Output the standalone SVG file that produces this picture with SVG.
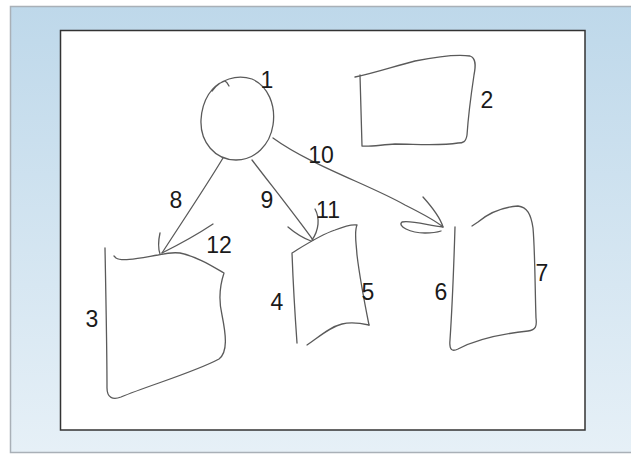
<svg xmlns="http://www.w3.org/2000/svg" width="631" height="457" viewBox="0 0 631 457">
  <defs>
    <linearGradient id="panelFill" x1="0" y1="0" x2="0" y2="1">
      <stop offset="0" stop-color="#bed8ea"/>
      <stop offset="1" stop-color="#e6f0f7"/>
    </linearGradient>
    <style>
      .ink { fill: none; stroke: #5a5a5a; stroke-width: 1.3; stroke-linecap: round; stroke-linejoin: round; }
      .lbl { font-family: "Liberation Sans", Arial, sans-serif; font-size: 23px; fill: #1a1a1a; text-anchor: middle; }
    </style>
  </defs>

  <!-- background panel and drawing sheet -->
  <rect x="10.5" y="6.5" width="640" height="446" fill="url(#panelFill)" stroke="#a9b0b7" stroke-width="1.5"/>
  <rect x="60.5" y="30.5" width="524.5" height="399.5" fill="#ffffff" stroke="#333333" stroke-width="1.5"/>

  <!-- circle node -->
  <g id="node1">
    <path class="ink" d="M 212,91 C 220,80 236,74 252,79 C 268,86 276,105 273,125 C 270,145 255,160 236,160 C 215,160 200,142 201,120 C 202,100 212,85 225,81 C 227,82 228,84 229,86"/>
    <text class="lbl" x="267" y="88">1</text>
  </g>

  <!-- box at top right -->
  <g id="node2">
    <path class="ink" d="M 355,77 C 375,73 395,66 415,61 C 435,57 455,54 470,56 C 476,58 476,65 474,75 C 471,95 468,120 467,135 C 466,142 463,143 458,143 C 440,146 415,144 395,144 C 380,145 368,147 362,146 L 360,75"/>
    <text class="lbl" x="487" y="108">2</text>
  </g>

  <!-- lower left box -->
  <g id="node3">
    <path class="ink" d="M 105,248 C 106,300 107,355 107,388 C 107,398 113,400 121,397 C 150,385 195,372 219,359 C 228,352 226,335 222,315 C 218,298 220,285 224,273 C 212,266 198,257 180,253 C 170,252 163,254 158,255 C 140,258 122,262 116,258 L 114,256"/>
    <text class="lbl" x="92" y="327">3</text>
  </g>

  <!-- middle box -->
  <g id="node4">
    <path class="ink" d="M 297,343 C 295,315 293,280 292,253 C 305,245 320,235 335,230 C 345,226 352,224 357,225 C 354,232 356,240 357,255 C 360,280 365,305 369,325"/>
    <path class="ink" d="M 369,325 C 360,323 350,322 342,324 C 330,327 320,336 307,345"/>
    <text class="lbl" x="277" y="310">4</text>
    <text class="lbl" x="368" y="300">5</text>
  </g>

  <!-- right box -->
  <g id="node6">
    <path class="ink" d="M 455,227 C 454,260 452,310 450,340 C 449,350 452,352 458,349 C 475,340 500,334 528,331 C 536,330 537,326 536,318 C 535,290 535,250 533,228 C 531,214 527,207 518,206 C 505,207 490,212 478,222 L 472,226"/>
    <text class="lbl" x="441" y="300">6</text>
    <text class="lbl" x="542" y="281">7</text>
  </g>

  <!-- connectors -->
  <g id="connectors">
    <path class="ink" d="M 223,158 C 205,188 180,225 162,253"/>
    <path class="ink" d="M 160,233 C 158,242 158,248 160,254"/>
    <path class="ink" d="M 213,224 C 195,236 176,246 162,253"/>
    <text class="lbl" x="176" y="208">8</text>
    <text class="lbl" x="219" y="253">12</text>

    <path class="ink" d="M 252,160 C 275,190 295,215 313,240"/>
    <path class="ink" d="M 315,209 C 320,218 319,230 312,240"/>
    <path class="ink" d="M 288,227 C 295,233 303,238 311,241"/>
    <text class="lbl" x="267" y="208">9</text>
    <text class="lbl" x="328" y="218">11</text>

    <path class="ink" d="M 273,138 C 310,165 370,185 405,205 C 425,215 436,221 443,227 C 430,226 412,220 402,222 C 397,226 410,233 425,233 C 432,233 438,232 441,231"/>
    <path class="ink" d="M 423,197 C 432,207 440,217 443,227"/>
    <text class="lbl" x="321" y="163">10</text>
  </g>
</svg>
